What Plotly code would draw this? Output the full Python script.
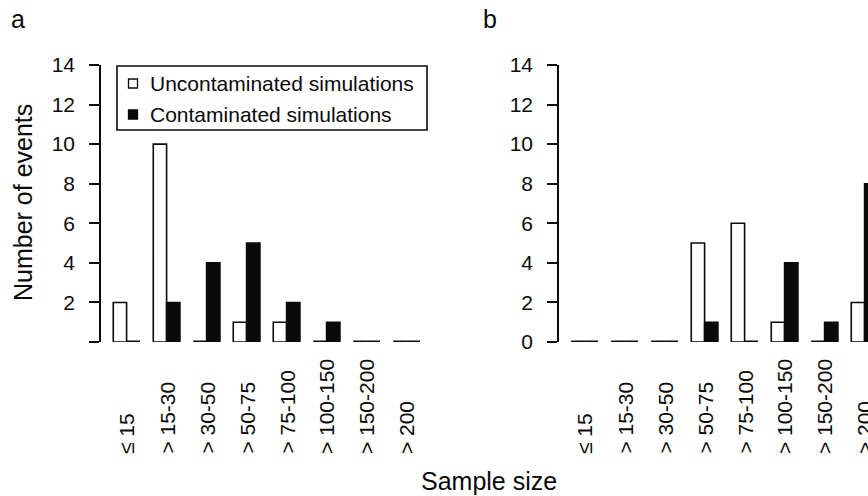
import plotly.graph_objects as go

categories = ["\u2264 15", "> 15-30", "> 30-50", "> 50-75", "> 75-100", "> 100-150", "> 150-200", "> 200"]
a_uncontaminated = [2, 10, 0, 1, 1, 0, 0, 0]
a_contaminated = [0, 2, 4, 5, 2, 1, 0, 0]
b_uncontaminated = [0, 0, 0, 5, 6, 1, 0, 2]
b_contaminated = [0, 0, 0, 1, 0, 4, 1, 8]
y_ticks = [0, 2, 4, 6, 8, 10, 12, 14]
series_names = ["Uncontaminated simulations", "Contaminated simulations"]

W, H = 868, 496
FONT = "Liberation Sans, Arial, sans-serif"
BLACK = "#0a0a0a"

# R barplot style positions: each group = space(1) + 2 bars of width 1
x_white = [3 * i + 1.5 for i in range(len(categories))]
x_black = [3 * i + 2.5 for i in range(len(categories))]
x_center = [3 * i + 2.0 for i in range(len(categories))]

unit = 13.333
ax_a_left = 101.0
ax_b_left = 559.0
x0 = 0.08
a_right = ax_a_left + (24.92 - x0) * unit
b_range_end = x0 + (W - ax_b_left) / unit

y_top_px, y_bot_px = 65.0, 342.0

fig = go.Figure()


def zero_segments(xs, vals):
    sx, sy = [], []
    for xc, v in zip(xs, vals):
        if v == 0:
            sx += [xc - 0.5, xc + 0.5, None]
            sy += [v, v, None]
    return sx, sy


def add_panel(unc, con, xa, ya):
    fig.add_trace(go.Bar(
        x=x_white, y=unc, width=1.0, name=series_names[0],
        marker=dict(color="white", line=dict(color=BLACK, width=1.6)),
        xaxis=xa, yaxis=ya, showlegend=False, cliponaxis=False,
    ))
    fig.add_trace(go.Bar(
        x=x_black, y=con, width=1.0, name=series_names[1],
        marker=dict(color=BLACK, line=dict(color=BLACK, width=1.6)),
        xaxis=xa, yaxis=ya, showlegend=False, cliponaxis=False,
    ))
    # zero-count bars drawn as flat outlines, as in the original
    zx1, zy1 = zero_segments(x_white, unc)
    zx2, zy2 = zero_segments(x_black, con)
    fig.add_trace(go.Scatter(
        x=zx1 + zx2, y=zy1 + zy2, mode="lines", line=dict(color=BLACK, width=3),
        xaxis=xa, yaxis=ya, showlegend=False, cliponaxis=False, hoverinfo="skip",
    ))


add_panel(a_uncontaminated, a_contaminated, "x", "y")
add_panel(b_uncontaminated, b_contaminated, "x2", "y2")

ydom = [1 - y_bot_px / H, 1 - y_top_px / H]
common_x = dict(visible=False, showgrid=False, zeroline=False, automargin=False)
common_y = dict(range=[0, 14], domain=ydom, showgrid=False, zeroline=False,
                showline=True, linecolor=BLACK, linewidth=1.6, automargin=False,
                ticks="outside", ticklen=10, tickwidth=1.6, tickcolor=BLACK,
                tickvals=y_ticks, ticklabelstandoff=10,
                tickfont=dict(family=FONT, size=21, color=BLACK))

fig.update_layout(
    width=W, height=H,
    margin=dict(l=0, r=0, t=0, b=0, pad=0, autoexpand=False),
    paper_bgcolor="white", plot_bgcolor="white",
    barmode="overlay",
    showlegend=False,
    font=dict(family=FONT, color=BLACK),
    xaxis=dict(domain=[ax_a_left / W, a_right / W], range=[x0, 24.92], **common_x),
    xaxis2=dict(domain=[ax_b_left / W, 1.0], range=[x0, b_range_end], **common_x),
    yaxis=dict(anchor="x", ticktext=["" if v == 0 else str(v) for v in y_ticks], **common_y),
    yaxis2=dict(anchor="x2", ticktext=[str(v) for v in y_ticks], **common_y),
)


def px(x):
    return x / W


def py(y):
    return 1 - y / H


# Manual legend (box, keys, labels)
shapes = [
    dict(type="rect", xref="paper", yref="paper", x0=px(117), x1=px(427), y0=py(130), y1=py(66),
         line=dict(color=BLACK, width=1.6), fillcolor="white", layer="above"),
    dict(type="rect", xref="paper", yref="paper", x0=px(128.5), x1=px(137.5), y0=py(88), y1=py(79),
         line=dict(color=BLACK, width=1.3), fillcolor="white", layer="above"),
    dict(type="rect", xref="paper", yref="paper", x0=px(128.5), x1=px(137.5), y0=py(119), y1=py(110),
         line=dict(color=BLACK, width=1.3), fillcolor=BLACK, layer="above"),
]
fig.update_layout(shapes=shapes)

ann = []
for name, yc in zip(series_names, (83.5, 114)):
    ann.append(dict(x=px(148), y=py(yc), xref="paper", yref="paper", text=name,
                    showarrow=False, xanchor="left", yanchor="middle",
                    font=dict(family=FONT, size=21, color=BLACK)))

for ref in ("x", "x2"):
    for xc, lab in zip(x_center, categories):
        ann.append(dict(x=xc, xref=ref, y=py(456), yref="paper",
                        text=lab, textangle=-90, showarrow=False,
                        xanchor="center", yanchor="bottom",
                        font=dict(family=FONT, size=21, color=BLACK)))

ann.append(dict(x=px(23), y=py(203), xref="paper", yref="paper",
                text="Number of events", textangle=-90, showarrow=False,
                xanchor="center", yanchor="middle",
                font=dict(family=FONT, size=25, color=BLACK)))
ann.append(dict(x=px(489), y=py(481), xref="paper", yref="paper",
                text="Sample size", showarrow=False,
                xanchor="center", yanchor="middle",
                font=dict(family=FONT, size=25, color=BLACK)))
ann.append(dict(x=px(18), y=py(19), xref="paper", yref="paper",
                text="a", showarrow=False, xanchor="center", yanchor="middle",
                font=dict(family=FONT, size=25, color=BLACK)))
ann.append(dict(x=px(490), y=py(19), xref="paper", yref="paper",
                text="b", showarrow=False, xanchor="center", yanchor="middle",
                font=dict(family=FONT, size=25, color=BLACK)))
fig.update_layout(annotations=ann)

fig.write_html("out.html")
